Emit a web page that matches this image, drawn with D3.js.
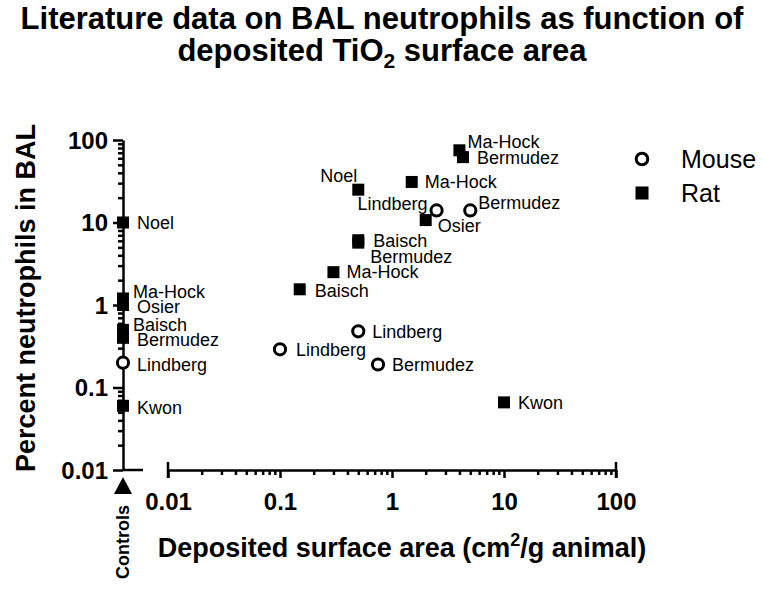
<!DOCTYPE html>
<html>
<head>
<meta charset="utf-8">
<script src="https://cdn.jsdelivr.net/npm/d3@7"></script>
<style>
  html, body { margin: 0; padding: 0; background: #fff; }
  svg { display: block; font-family: "Liberation Sans", Arial, Helvetica, sans-serif; }
</style>
</head>
<body>
<div id="chart"></div>
<script>
// ---------- data ----------
const titleLine1 = "Literature data on BAL neutrophils as function of";
const yAxisTitle = "Percent neutrophils in BAL";
const xTickValues = [0.01, 0.1, 1, 10, 100];
const xTickLabels = ["0.01", "0.1", "1", "10", "100"];
const yTickValues = [0.01, 0.1, 1, 10, 100];
const yTickLabels = ["0.01", "0.1", "1", "10", "100"];
const speciesNames = ["Mouse", "Rat"];

// exposed animals
const studyNames   = ["Noel", "Ma-Hock", "Bermudez", "Ma-Hock", "Lindberg", "Bermudez", "Osier", "Baisch", "Bermudez", "Ma-Hock", "Baisch", "Lindberg", "Lindberg", "Bermudez", "Kwon"];
const studySpecies = ["Rat", "Rat", "Rat", "Rat", "Mouse", "Mouse", "Rat", "Rat", "Rat", "Rat", "Rat", "Mouse", "Mouse", "Mouse", "Rat"];
const surfaceArea  = [0.5, 4, 4.3, 1.5, 2.5, 5, 2, 0.5, 0.5, 0.3, 0.15, 0.5, 0.1, 0.75, 10];
const neutrophils  = [25, 75, 62, 31, 14, 14, 10.7, 6.1, 5.7, 2.5, 1.55, 0.48, 0.29, 0.19, 0.066];

// controls
const controlNames   = ["Noel", "Ma-Hock", "Osier", "Baisch", "Bermudez", "Lindberg", "Kwon"];
const controlSpecies = ["Rat", "Rat", "Rat", "Rat", "Rat", "Mouse", "Rat"];
const controlValues  = [10, 1.2, 1.0, 0.5, 0.4, 0.2, 0.06];

// ---------- layout (label placement, not data) ----------
const studyLabelOffsets = [
  [-1, -14, "end"], [8, -9, "start"], [14, 1, "start"], [13, 0, "start"], [-9, -7, "end"],
  [8, -8, "start"], [12, 6, "start"], [15, 0, "start"], [12, 14, "start"], [13, 0, "start"],
  [15, 1, "start"], [14, 0, "start"], [16, 0, "start"], [14, 0, "start"], [14, 0, "start"]
];
const controlLabelOffsets = [[14, 0], [10, -7], [14, 2], [10, -5], [14, 2], [14, 2], [14, 2]];

const W = 763, H = 591;
const svg = d3.select("#chart").append("svg").attr("width", W).attr("height", H);

const x = d3.scaleLog().domain([0.01, 100]).range([168, 616]);
const y = d3.scaleLog().domain([0.01, 100]).range([470, 140]);
const axisX = 123;
const sq = 12, circR = 5.6;

// minor tick values
function minors(lo, hi) {
  const out = [];
  for (let e = Math.log10(lo); e < Math.log10(hi); e++) {
    for (let k = 2; k <= 9; k++) out.push(k * Math.pow(10, e));
  }
  return out;
}

// ---------- title ----------
svg.append("text").attr("x", 382).attr("y", 29)
  .attr("text-anchor", "middle").attr("font-size", 31).attr("font-weight", "bold")
  .text(titleLine1);
const t2 = svg.append("text").attr("x", 382).attr("y", 61)
  .attr("text-anchor", "middle").attr("font-size", 31).attr("font-weight", "bold");
t2.append("tspan").text("deposited TiO");
t2.append("tspan").attr("font-size", 21).attr("dy", 7).text("2");
t2.append("tspan").attr("dy", -7).text(" surface area");

// ---------- y axis ----------
const yMajor = svg.append("g").attr("transform", `translate(${axisX},0)`)
  .call(d3.axisLeft(y).tickValues(yTickValues).tickSize(10).tickSizeOuter(0)
    .tickFormat((d, i) => yTickLabels[i]));
const yMinor = svg.append("g").attr("transform", `translate(${axisX},0)`)
  .call(d3.axisLeft(y).tickValues(minors(0.01, 100)).tickSize(5).tickSizeOuter(0).tickFormat(""));
yMinor.select(".domain").remove();
[yMajor, yMinor].forEach(g => {
  g.selectAll("path, line").attr("stroke", "#000").attr("stroke-width", 2.5);
});
yMajor.selectAll("text").attr("font-size", 24).attr("font-weight", "bold")
  .attr("font-family", "Liberation Sans, Arial, sans-serif").attr("fill", "#000")
  .attr("x", -15).attr("dy", "0.35em");

// controls stub + arrow
svg.append("line").attr("x1", axisX).attr("x2", axisX + 20).attr("y1", y(0.01)).attr("y2", y(0.01))
  .attr("stroke", "#000").attr("stroke-width", 2.5);
svg.append("path")
  .attr("d", d3.line()([[axisX, 477], [axisX + 9, 494], [axisX - 9, 494]]) + "Z")
  .attr("fill", "#000");
svg.append("text").attr("transform", `translate(${axisX + 6},542) rotate(-90)`)
  .attr("text-anchor", "middle").attr("font-size", 18).attr("font-weight", "bold")
  .text("Controls");

// ---------- x axis ----------
const xg = svg.append("g").attr("transform", `translate(0,${y(0.01)})`);
xg.call(d3.axisBottom(x).tickValues(xTickValues).tickSize(8).tickSizeOuter(0)
  .tickFormat((d, i) => xTickLabels[i]));
const xMinor = svg.append("g").attr("transform", `translate(0,${y(0.01)})`)
  .call(d3.axisBottom(x).tickValues(minors(0.01, 100)).tickSize(5).tickSizeOuter(0).tickFormat(""));
xMinor.select(".domain").remove();
[xg, xMinor].forEach(g => g.selectAll("path, line").attr("stroke", "#000").attr("stroke-width", 2.5));
// end caps
[0.01, 100].forEach(v => {
  svg.append("line").attr("x1", x(v)).attr("x2", x(v)).attr("y1", y(0.01) - 8).attr("y2", y(0.01) + 8)
    .attr("stroke", "#000").attr("stroke-width", 2.5);
});
xg.selectAll("text").attr("font-size", 24).attr("font-weight", "bold")
  .attr("font-family", "Liberation Sans, Arial, sans-serif").attr("fill", "#000")
  .attr("y", 23);

// axis titles
const xt = svg.append("text").attr("x", 402).attr("y", 557).attr("text-anchor", "middle")
  .attr("font-size", 27).attr("font-weight", "bold");
xt.append("tspan").text("Deposited surface area (cm");
xt.append("tspan").attr("font-size", 18).attr("dy", -11).text("2");
xt.append("tspan").attr("dy", 11).text("/g animal)");

svg.append("text").attr("transform", "translate(35,298) rotate(-90)")
  .attr("text-anchor", "middle").attr("font-size", 27).attr("font-weight", "bold")
  .text(yAxisTitle);

// ---------- marks ----------
function drawMark(g, cx, cy, species) {
  if (species === "Rat") {
    g.append("rect").attr("x", cx - sq / 2).attr("y", cy - sq / 2)
      .attr("width", sq).attr("height", sq).attr("fill", "#000");
  } else {
    g.append("circle").attr("cx", cx).attr("cy", cy).attr("r", circR)
      .attr("fill", "#fff").attr("stroke", "#000").attr("stroke-width", 3);
  }
}

const marks = svg.append("g");
const order = ["Rat", "Mouse"];
order.forEach(sp => {
  studyNames.forEach((n, i) => {
    if (studySpecies[i] === sp) drawMark(marks, x(surfaceArea[i]), y(neutrophils[i]), sp);
  });
  controlNames.forEach((n, i) => {
    if (controlSpecies[i] === sp) drawMark(marks, axisX, y(controlValues[i]), sp);
  });
});

const labels = svg.append("g").attr("font-size", 18).attr("fill", "#000");
studyNames.forEach((n, i) => {
  const [dx, dy, anchor] = studyLabelOffsets[i];
  labels.append("text").attr("x", x(surfaceArea[i]) + dx).attr("y", y(neutrophils[i]) + dy)
    .attr("dy", "0.35em").attr("text-anchor", anchor).text(n);
});
controlNames.forEach((n, i) => {
  const [dx, dy] = controlLabelOffsets[i];
  labels.append("text").attr("x", axisX + dx).attr("y", y(controlValues[i]) + dy)
    .attr("dy", "0.35em").text(n);
});

// ---------- legend ----------
const leg = svg.append("g");
speciesNames.forEach((s, i) => {
  const cy = 159 + i * 34;
  if (s === "Rat") {
    leg.append("rect").attr("x", 642 - 6.5).attr("y", cy - 6.5).attr("width", 13).attr("height", 13).attr("fill", "#000");
  } else {
    leg.append("circle").attr("cx", 642).attr("cy", cy).attr("r", 5.8)
      .attr("fill", "#fff").attr("stroke", "#000").attr("stroke-width", 3);
  }
  leg.append("text").attr("x", 681).attr("y", cy).attr("dy", "0.35em")
    .attr("font-size", 25).text(s);
});
</script>
</body>
</html>
